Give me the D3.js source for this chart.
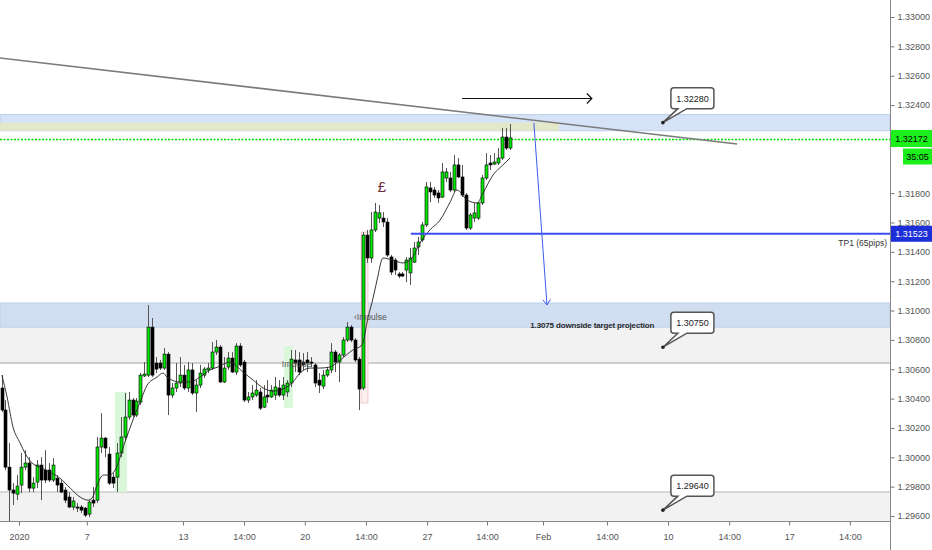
<!DOCTYPE html>
<html lang="en">
<head>
<meta charset="utf-8">
<title>GBPUSD 4H</title>
<script src="https://d3js.org/d3.v7.min.js"></script>
<style>
  html, body { margin: 0; padding: 0; background: #fff; }
  svg { display: block; font-family: "Liberation Sans", Arial, sans-serif; }
</style>
</head>
<body>
<svg width="932" height="550"></svg>
<script>
// 4h candles (oldest first)
var opens = [1.30472,1.30322,1.29933,1.29777,1.29749,1.29811,1.29933,1.29961,1.29790,1.29831,
  1.29947,1.29913,1.29913,1.29845,1.29858,1.29824,1.29777,1.29729,1.29661,1.29661,
  1.29661,1.29654,1.29613,1.29708,1.29708,1.30070,1.30131,1.30022,1.29865,1.29865,
  1.30029,1.30138,1.30274,1.30390,1.30288,1.30376,1.30554,1.30560,1.30887,1.30642,
  1.30642,1.30608,1.30703,1.30424,1.30472,1.30506,1.30560,1.30472,1.30595,1.30438,
  1.30492,1.30560,1.30595,1.30608,1.30717,1.30751,1.30513,1.30615,1.30676,1.30581,
  1.30758,1.30649,1.30390,1.30411,1.30424,1.30445,1.30342,1.30424,1.30411,1.30424,
  1.30472,1.30424,1.30445,1.30506,1.30663,1.30663,1.30649,1.30663,1.30649,1.30629,
  1.30526,1.30485,1.30560,1.30595,1.30717,1.30649,1.30697,1.30799,1.30887,1.30799,
  1.30669,1.30472,1.31514,1.31358,1.31549,1.31630,1.31630,1.31603,1.31365,1.31344,
  1.31249,1.31249,1.31276,1.31256,1.31330,1.31433,1.31481,1.31583,1.31835,1.31821,
  1.31801,1.31773,1.31903,1.31903,1.31821,1.31992,1.31910,1.31787,1.31562,1.31630,
  1.31630,1.31733,1.31903,1.32005,1.31998,1.32005,1.32039,1.32182,1.32107];
var highs = [1.30560,1.30390,1.30097,1.29824,1.29879,1.30029,1.30049,1.30001,1.29865,1.29981,
  1.30001,1.30049,1.29961,1.29995,1.29879,1.29845,1.29797,1.29763,1.29729,1.29688,
  1.29674,1.29661,1.29708,1.29797,1.30138,1.30301,1.30138,1.30070,1.29892,1.30097,
  1.30274,1.30438,1.30445,1.30404,1.30404,1.30574,1.30649,1.31038,1.30949,1.30683,
  1.30663,1.30744,1.30717,1.30506,1.30642,1.30683,1.30629,1.30649,1.30642,1.30526,
  1.30629,1.30615,1.30642,1.30785,1.30799,1.30765,1.30683,1.30717,1.30717,1.30778,
  1.30778,1.30663,1.30445,1.30492,1.30526,1.30472,1.30492,1.30526,1.30492,1.30547,
  1.30526,1.30547,1.30526,1.30731,1.30731,1.30717,1.30710,1.30717,1.30683,1.30642,
  1.30574,1.30595,1.30615,1.30778,1.30731,1.30710,1.30819,1.30922,1.30901,1.30812,
  1.30683,1.31535,1.31549,1.31671,1.31733,1.31719,1.31671,1.31630,1.31378,1.31358,
  1.31262,1.31262,1.31365,1.31426,1.31467,1.31501,1.31603,1.31876,1.31876,1.31842,
  1.31821,1.32005,1.31971,1.31944,1.32060,1.32039,1.31992,1.31801,1.31665,1.31733,
  1.31739,1.31923,1.32073,1.32060,1.32073,1.32107,1.32244,1.32244,1.32271];
var lows = [1.30308,1.29913,1.29559,1.29674,1.29708,1.29756,1.29913,1.29763,1.29763,1.29790,
  1.29708,1.29824,1.29831,1.29831,1.29763,1.29756,1.29688,1.29654,1.29640,1.29627,
  1.29620,1.29593,1.29593,1.29661,1.29688,1.30029,1.30001,1.29811,1.29790,1.29763,
  1.30001,1.30117,1.30254,1.30274,1.30274,1.30356,1.30547,1.30547,1.30547,1.30574,
  1.30595,1.30595,1.30288,1.30404,1.30445,1.30479,1.30458,1.30445,1.30424,1.30308,
  1.30472,1.30540,1.30574,1.30595,1.30697,1.30506,1.30506,1.30595,1.30574,1.30560,
  1.30615,1.30376,1.30370,1.30390,1.30411,1.30322,1.30335,1.30370,1.30404,1.30390,
  1.30411,1.30390,1.30411,1.30479,1.30581,1.30560,1.30595,1.30581,1.30615,1.30479,
  1.30438,1.30465,1.30547,1.30574,1.30581,1.30513,1.30683,1.30785,1.30785,1.30649,
  1.30322,1.30458,1.31324,1.31324,1.31535,1.31596,1.31569,1.31365,1.31242,1.31242,
  1.31221,1.31228,1.31194,1.31174,1.31324,1.31378,1.31467,1.31569,1.31739,1.31767,
  1.31733,1.31767,1.31876,1.31808,1.31808,1.31903,1.31773,1.31549,1.31549,1.31603,
  1.31617,1.31719,1.31889,1.31957,1.31992,1.31992,1.32026,1.32094,1.32094];
var closes = [1.30322,1.29933,1.29777,1.29756,1.29804,1.29933,1.29961,1.29790,1.29824,1.29947,
  1.29845,1.29845,1.29845,1.29947,1.29811,1.29763,1.29708,1.29661,1.29702,1.29654,
  1.29640,1.29606,1.29695,1.29688,1.30070,1.30131,1.30063,1.29824,1.29824,1.30029,
  1.30138,1.30274,1.30390,1.30288,1.30383,1.30560,1.30567,1.30887,1.30560,1.30601,
  1.30608,1.30703,1.30424,1.30472,1.30506,1.30560,1.30472,1.30595,1.30438,1.30492,
  1.30574,1.30601,1.30608,1.30717,1.30751,1.30513,1.30608,1.30676,1.30581,1.30758,
  1.30629,1.30390,1.30411,1.30438,1.30458,1.30335,1.30411,1.30411,1.30458,1.30479,
  1.30424,1.30492,1.30506,1.30669,1.30642,1.30581,1.30629,1.30642,1.30642,1.30506,
  1.30492,1.30560,1.30595,1.30717,1.30649,1.30697,1.30799,1.30887,1.30799,1.30663,
  1.30465,1.31514,1.31358,1.31549,1.31671,1.31665,1.31603,1.31378,1.31262,1.31276,
  1.31235,1.31235,1.31344,1.31358,1.31426,1.31467,1.31583,1.31842,1.31808,1.31787,
  1.31767,1.31944,1.31944,1.31821,1.31992,1.31910,1.31787,1.31562,1.31651,1.31665,
  1.31733,1.31903,1.31992,1.31992,1.32012,1.32039,1.32182,1.32107,1.32176];

// moving average as drawn on the chart (bar position, value)
var maAt = [0.1,1.4,2.9,4.7,5.9,7.7,9.7,12.2,14.7,17.3,19.8,21.8,22.8,24.1,25.6,27.3,28.6,31.1,33.1,34.9,
  36.7,39.2,40.7,41.7,42.9,45.0,47.5,50.0,52.5,54.5,57.6,60.8,63.4,65.9,68.4,71.4,73.4,75.2,77.7,80.2,
  82.7,85.3,88.5,90.8,92.3,93.6,94.6,96.1,98.6,101.1,103.4,105.4,107.9,110.5,113.0,114.7,117.3,119.8,121.3,123.8,
  126.3,128.1];
var maValue = [1.30560,1.30411,1.30206,1.30097,1.30029,1.29961,1.29933,1.29899,1.29858,1.29790,1.29729,1.29708,1.29722,1.29811,1.29879,1.29879,1.29913,1.30104,1.30254,1.30376,
  1.30492,1.30547,1.30574,1.30547,1.30526,1.30513,1.30513,1.30547,1.30595,1.30615,1.30649,1.30581,1.30526,1.30472,1.30451,1.30472,1.30513,1.30574,1.30608,1.30608,
  1.30615,1.30663,1.30731,1.30765,1.30949,1.31085,1.31208,1.31358,1.31344,1.31324,1.31358,1.31460,1.31549,1.31617,1.31739,1.31821,1.31753,1.31733,1.31801,1.31923,
  1.31992,1.32039];

var priceTicks = [1.33,1.328,1.326,1.324,1.322,1.32,1.318,1.316,1.314,1.312,1.31,1.308,1.306,1.304,1.302,1.30,1.298,1.296];
var timeTickAt = [4.4,21.5,45.7,61.1,76.4,91.8,107.2,122.3,136.4,152.5,167.9,183.3,198.4,213.7];
var timeTickLabels = ["2020","7","13","14:00","20","14:00","27","14:00","Feb","14:00","10","14:00","17","14:00"];

// drawn zones (price bands)
var supplyZone = [1.32335, 1.32225];
var supplyCore = [1.32280, 1.32225];
var targetZone = [1.31051, 1.30887];
var targetBase = [1.30887, 1.30642];
var floorZone = [1.29763, 1.2950];

var lastPrice = 1.32172, tp1Price = 1.31523;
var calloutPrices = [1.32280, 1.30750, 1.29640];
var calloutAt = 166.6;
// trend line and arrows: [bar, price] pairs
var trendLine = [[-0.4, 1.32721], [185.3, 1.32135]];
var rightArrow = [[116.0, 1.32448], [148.7, 1.32448]];
var downArrow = [[134.1, 1.32278], [137.4, 1.31038]];
var tpStart = 103.1;
// highlight boxes: [bar from, bar to, price hi, price lo]
var greenBoxes = [[28.6, 31.6, 1.30445, 1.29763], [71.2, 73.4, 1.30758, 1.30335]];
var pinkBox = [90.6, 92.3, 1.31535, 1.30370];

var plotW = 890, plotH = 521;
var x = d3.scaleLinear().domain([0, 224]).range([1.5, 1.5 + 3.97 * 224]);
var y = d3.scaleLinear().domain([1.296, 1.33]).range([516, 17]);

var svg = d3.select("svg");
svg.append("defs").append("clipPath").attr("id", "plot")
  .append("rect").attr("width", plotW).attr("height", plotH);

var plot = svg.append("g").attr("clip-path", "url(#plot)");
var zoneG = plot.append("g");
var markG = plot.append("g");
var candleG = plot.append("g");
var drawG = plot.append("g");

// zones
function band(b, x0, x1, fill) {
  return zoneG.append("rect")
    .attr("x", x0).attr("width", x1 - x0)
    .attr("y", y(b[0])).attr("height", y(b[1]) - y(b[0]))
    .attr("fill", fill);
}
band(supplyZone, 0, plotW, "#d6e3f6").attr("stroke", "#bccfee");
band(supplyCore, 0, x(140.4), "#e3e8c8");
band(targetBase, 0, plotW, "#f2f2f2");
band(targetZone, 0, plotW, "#d1ddf0").attr("stroke", "#bccfee");
zoneG.append("line").attr("x1", 0).attr("x2", plotW)
  .attr("y1", y(targetBase[1])).attr("y2", y(targetBase[1]))
  .attr("stroke", "#cdcdcd").attr("stroke-width", 2);
band(floorZone, 0, plotW, "#f2f2f2");
zoneG.append("line").attr("x1", 0).attr("x2", plotW)
  .attr("y1", y(floorZone[0])).attr("y2", y(floorZone[0]))
  .attr("stroke", "#cdcdcd").attr("stroke-width", 1.5);

// highlight boxes behind candles
markG.selectAll("rect.g").data(greenBoxes).enter().append("rect")
  .attr("x", function(d) { return x(d[0]); })
  .attr("width", function(d) { return x(d[1]) - x(d[0]); })
  .attr("y", function(d) { return y(d[2]); })
  .attr("height", function(d) { return y(d[3]) - y(d[2]); })
  .attr("fill", "#d9f7d9");
markG.append("rect")
  .attr("x", x(pinkBox[0])).attr("width", x(pinkBox[1]) - x(pinkBox[0]))
  .attr("y", y(pinkBox[2])).attr("height", y(pinkBox[3]) - y(pinkBox[2]))
  .attr("fill", "#fbeeee").attr("stroke", "#f0caca");

// last price dotted line
var lpY = Math.round(y(lastPrice)) + 0.5;
markG.append("line").attr("x1", 0).attr("x2", plotW)
  .attr("y1", lpY).attr("y2", lpY)
  .attr("stroke", "#00dd00").attr("stroke-width", 1.3).attr("stroke-dasharray", "2,1.5");

// candles
var idx = d3.range(opens.length);
candleG.selectAll("line").data(idx).enter().append("line")
  .attr("x1", function(i) { return Math.round(x(i)) + 0.5; })
  .attr("x2", function(i) { return Math.round(x(i)) + 0.5; })
  .attr("y1", function(i) { return y(highs[i]); })
  .attr("y2", function(i) { return y(lows[i]); })
  .attr("stroke", "#555");
candleG.selectAll("rect").data(idx).enter().append("rect")
  .attr("x", function(i) { return Math.round(x(i)) - 1; })
  .attr("width", 3)
  .attr("y", function(i) { return y(Math.max(opens[i], closes[i])); })
  .attr("height", function(i) { return Math.max(1, Math.abs(y(opens[i]) - y(closes[i]))); })
  .attr("fill", function(i) { return closes[i] >= opens[i] ? "#00e600" : "#000"; })
  .attr("stroke", "#000").attr("stroke-width", 0.6);

// moving average
var ma = maAt.map(function(a, i) { return [a, maValue[i]]; });
drawG.append("path").datum(ma)
  .attr("d", d3.line().x(function(d) { return x(d[0]); }).y(function(d) { return y(d[1]); })
    .curve(d3.curveMonotoneX))
  .attr("fill", "none").attr("stroke", "#222").attr("stroke-width", 0.9);

// trend line
drawG.append("line")
  .attr("x1", x(trendLine[0][0])).attr("y1", y(trendLine[0][1]))
  .attr("x2", x(trendLine[1][0])).attr("y2", y(trendLine[1][1]))
  .attr("stroke", "#7b7b7b").attr("stroke-width", 1.6);

// TP1 line
drawG.append("line").attr("x1", x(tpStart)).attr("x2", plotW)
  .attr("y1", y(tp1Price)).attr("y2", y(tp1Price))
  .attr("stroke", "#3d4ef0").attr("stroke-width", 2);
drawG.append("text").attr("x", plotW - 3).attr("y", y(tp1Price) + 12)
  .attr("text-anchor", "end").attr("font-size", 8.5).attr("fill", "#333")
  .text("TP1 (65pips)");

// arrows
var ax0 = x(rightArrow[0][0]), ax1 = x(rightArrow[1][0]), ay = Math.round(y(rightArrow[0][1])) + 0.5;
drawG.append("line").attr("x1", ax0).attr("x2", ax1).attr("y1", ay).attr("y2", ay)
  .attr("stroke", "#111").attr("stroke-width", 1.2);
drawG.append("path").attr("d", "M" + (ax1 - 5) + "," + (ay - 5) + "L" + ax1 + "," + ay + "L" + (ax1 - 5) + "," + (ay + 5))
  .attr("fill", "none").attr("stroke", "#111").attr("stroke-width", 1.2);

var bx0 = x(downArrow[0][0]), by0 = y(downArrow[0][1]), bx1 = x(downArrow[1][0]), by1 = y(downArrow[1][1]);
drawG.append("line").attr("x1", bx0).attr("y1", by0).attr("x2", bx1).attr("y2", by1)
  .attr("stroke", "#3d5cf0").attr("stroke-width", 1);
drawG.append("path").attr("d", "M" + (bx1 - 4) + "," + (by1 - 5) + "L" + bx1 + "," + by1 + "L" + (bx1 + 3.5) + "," + (by1 - 5.5))
  .attr("fill", "none").attr("stroke", "#3d5cf0").attr("stroke-width", 1);

// text notes
drawG.append("text").attr("x", x(133.2)).attr("y", y(targetZone[1]) + 1)
  .attr("font-size", 8).attr("font-weight", "bold").attr("fill", "#2a2a2a")
  .attr("letter-spacing", -0.15)
  .text("1.3075 downside target projection");
drawG.append("text").attr("x", x(88.8)).attr("y", y(1.30935))
  .attr("font-size", 8.5).attr("fill", "#555").text("‹Impulse");
drawG.append("text").attr("x", x(70.6)).attr("y", y(1.30615))
  .attr("font-size", 8.5).attr("fill", "#555").text("Impulse");
drawG.append("text").attr("x", x(94.8)).attr("y", y(1.31808))
  .attr("font-size", 15).attr("fill", "#6e2c3c").text("£");

// callouts
var cg = drawG.selectAll("g.callout").data(calloutPrices).enter().append("g");
cg.append("path").attr("d", function(p) {
  var dx = x(calloutAt), dy = y(p);
  var l = dx + 8, r = dx + 51, t = dy - 35, b = dy - 14;
  return "M" + (l + 3) + "," + t + "H" + (r - 3) + "Q" + r + "," + t + " " + r + "," + (t + 3) +
    "V" + (b - 3) + "Q" + r + "," + b + " " + (r - 3) + "," + b +
    "H" + (dx + 24) + "L" + dx + "," + dy + "L" + (dx + 15) + "," + b +
    "H" + (l + 3) + "Q" + l + "," + b + " " + l + "," + (b - 3) +
    "V" + (t + 3) + "Q" + l + "," + t + " " + (l + 3) + "," + t + "Z";
}).attr("fill", "#fff").attr("stroke", "#555").attr("stroke-width", 1.5);
cg.append("circle").attr("cx", x(calloutAt)).attr("cy", function(p) { return y(p); })
  .attr("r", 1.8).attr("fill", "#222");
cg.append("text").attr("x", x(calloutAt) + 29.5).attr("y", function(p) { return y(p) - 21; })
  .attr("text-anchor", "middle").attr("font-size", 9).attr("fill", "#222")
  .text(function(p) { return p.toFixed(5); });

// axes; labels hidden behind the price tags are left out
var tagCentres = [y(lastPrice), y(lastPrice) + 18];
var shownTicks = priceTicks.filter(function(p) {
  return tagCentres.every(function(c) { return Math.abs(y(p) - c) > 11; });
});
var yAxis = d3.axisRight(y).tickValues(shownTicks).tickSize(4).tickPadding(3)
  .tickFormat(d3.format(".5f"));
var yG = svg.append("g").attr("transform", "translate(" + (plotW + 0.5) + ",0)").call(yAxis);
yG.select(".domain").remove();
yG.selectAll("line").attr("stroke", "#777");
yG.selectAll("text").attr("font-size", 9).attr("fill", "#555").attr("font-family", "Liberation Sans, Arial, sans-serif");

var xAxis = d3.axisBottom(x).tickValues(timeTickAt).tickSize(4).tickPadding(8)
  .tickFormat(function(d, i) { return timeTickLabels[i]; });
var xG = svg.append("g").attr("transform", "translate(0," + (plotH + 0.5) + ")").call(xAxis);
xG.select(".domain").remove();
xG.selectAll("line").attr("stroke", "#777");
xG.selectAll("text").attr("font-size", 9).attr("fill", "#555").attr("font-family", "Liberation Sans, Arial, sans-serif");

svg.append("line").attr("x1", 0).attr("x2", plotW).attr("y1", plotH + 0.5).attr("y2", plotH + 0.5)
  .attr("stroke", "#888");
svg.append("line").attr("x1", plotW + 0.5).attr("x2", plotW + 0.5).attr("y1", 0).attr("y2", 550)
  .attr("stroke", "#888");

// price tags on the right axis
function tag(yc, x0, w, hgt, fill, color, label) {
  svg.append("rect").attr("x", x0).attr("y", yc - hgt / 2).attr("width", w).attr("height", hgt)
    .attr("fill", fill);
  svg.append("text").attr("x", x0 + w / 2).attr("y", yc + 3.5).attr("text-anchor", "middle")
    .attr("font-size", 9).attr("fill", color).text(label);
}
tag(y(lastPrice), plotW + 1, 41, 17, "#1cf01c", "#000", lastPrice.toFixed(5));
tag(y(lastPrice) + 18, plotW + 13, 29, 16, "#1cf01c", "#000", "35:05");
tag(y(tp1Price), plotW + 1, 41, 16, "#1c2fd9", "#fff", tp1Price.toFixed(5));
</script>
</body>
</html>
